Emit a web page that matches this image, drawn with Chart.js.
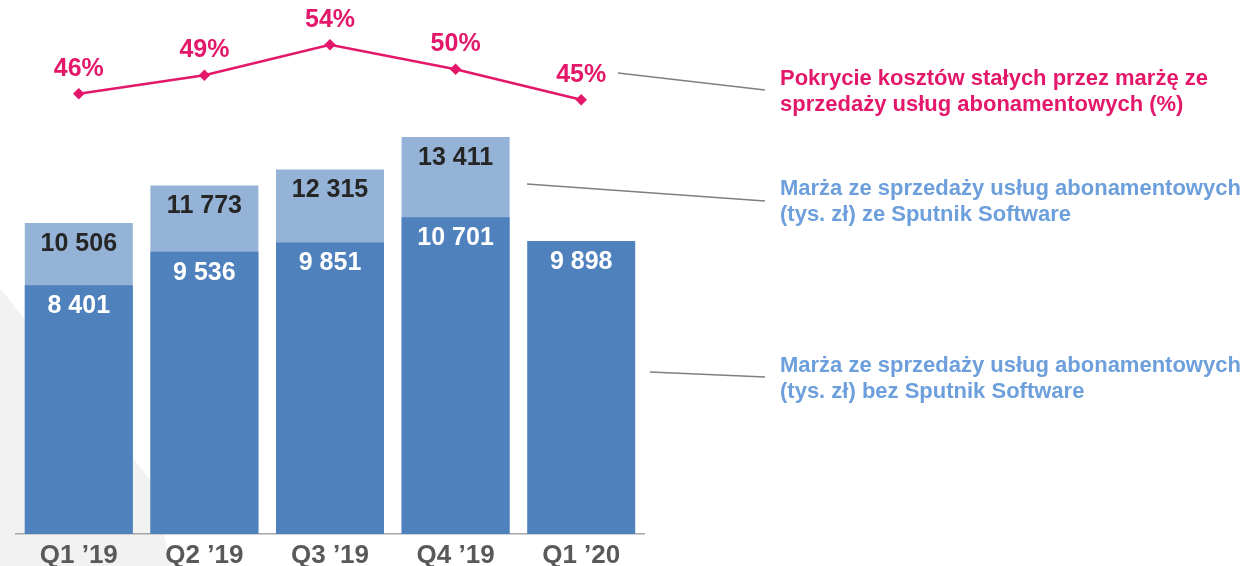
<!DOCTYPE html>
<html>
<head>
<meta charset="utf-8">
<script src="https://cdn.jsdelivr.net/npm/chart.js@4/dist/chart.umd.min.js"></script>
<style>
  html, body { margin: 0; padding: 0; background: #fff; }
  #wrap { width: 1246px; height: 566px; position: relative; }
</style>
</head>
<body>
<div id="wrap"><canvas id="chart" width="1246" height="566"></canvas></div>
<script>
const quarters = ['Q1 \u201919', 'Q2 \u201919', 'Q3 \u201919', 'Q4 \u201919', 'Q1 \u201920'];
const marginWithoutSputnik = [8401, 9536, 9851, 10701, 9898];
const marginWithSputnik = [10506, 11773, 12315, 13411, null];
const fixedCostCoverage = [46, 49, 54, 50, 45];

const legendLabels = {
    coverage: ['Pokrycie kosztów stałych przez marżę ze', 'sprzedaży usług abonamentowych (%)'],
    withSputnik: ['Marża ze sprzedaży usług abonamentowych', '(tys. zł) ze Sputnik Software'],
    withoutSputnik: ['Marża ze sprzedaży usług abonamentowych', '(tys. zł) bez Sputnik Software']
};

const colors = {
    darkBlue: '#4f81bd',
    lightBlue: '#95b3d7',
    magenta: '#e4186a',
    legendBlue: '#6c9fdb',
    darkText: '#262626',
    axisText: '#595959',
    connector: '#7f7f7f'
};

const fontFamily = '"Liberation Sans", Arial, sans-serif';

function fmt(v) {
    return String(v).replace(/\B(?=(\d{3})+(?!\d))/g, ' ');
}

// faint grey decoration on the left
const backgroundShape = {
    id: 'backgroundShape',
    beforeDraw(chart) {
        const ctx = chart.ctx;
        ctx.save();
        ctx.fillStyle = '#f2f2f2';
        ctx.beginPath();
        ctx.moveTo(0, 288);
        ctx.lineTo(150, 480);
        ctx.lineTo(172, 566);
        ctx.lineTo(0, 566);
        ctx.closePath();
        ctx.fill();
        ctx.restore();
    }
};

const valueLabels = {
    id: 'valueLabels',
    afterDatasetsDraw(chart) {
        const ctx = chart.ctx;
        ctx.save();
        ctx.textAlign = 'center';
        ctx.textBaseline = 'middle';
        ctx.font = 'bold 25px ' + fontFamily;
        chart.data.datasets.forEach((ds, i) => {
            const meta = chart.getDatasetMeta(i);
            meta.data.forEach((el, j) => {
                const v = ds.data[j];
                if (v === null || v === undefined) return;
                if (ds.type === 'line') {
                    ctx.fillStyle = colors.magenta;
                    ctx.fillText(v + '%', el.x, el.y - 25);
                } else {
                    ctx.fillStyle = ds.labelColor;
                    ctx.fillText(fmt(v), el.x, el.y + 21);
                }
            });
        });
        ctx.restore();
    }
};

const sideLegend = {
    id: 'sideLegend',
    afterDraw(chart) {
        const ctx = chart.ctx;
        ctx.save();
        ctx.strokeStyle = colors.connector;
        ctx.lineWidth = 1.5;
        const lines = [
            [618, 73, 765, 90],
            [527, 184, 765, 201],
            [650, 372, 765, 377]
        ];
        lines.forEach(l => {
            ctx.beginPath();
            ctx.moveTo(l[0], l[1]);
            ctx.lineTo(l[2], l[3]);
            ctx.stroke();
        });
        ctx.font = 'bold 22px ' + fontFamily;
        ctx.textAlign = 'left';
        ctx.textBaseline = 'middle';
        const blocks = [
            [legendLabels.coverage, colors.magenta, 79],
            [legendLabels.withSputnik, colors.legendBlue, 189],
            [legendLabels.withoutSputnik, colors.legendBlue, 366]
        ];
        blocks.forEach(b => {
            ctx.fillStyle = b[1];
            b[0].forEach((t, k) => ctx.fillText(t, 780, b[2] + k * 26));
        });
        ctx.restore();
    }
};

new Chart(document.getElementById('chart'), {
    data: {
        labels: quarters,
        datasets: [
            {
                type: 'line',
                label: legendLabels.coverage.join(' '),
                data: fixedCostCoverage,
                yAxisID: 'pct',
                borderColor: colors.magenta,
                backgroundColor: colors.magenta,
                borderWidth: 2.5,
                pointStyle: 'rectRot',
                pointRadius: 4,
                pointBackgroundColor: colors.magenta,
                pointBorderColor: colors.magenta,
                tension: 0,
                order: 0
            },
            {
                type: 'bar',
                label: legendLabels.withoutSputnik.join(' '),
                data: marginWithoutSputnik,
                yAxisID: 'y',
                backgroundColor: colors.darkBlue,
                labelColor: '#ffffff',
                grouped: false,
                barPercentage: 0.86,
                categoryPercentage: 1.0,
                order: 1
            },
            {
                type: 'bar',
                label: legendLabels.withSputnik.join(' '),
                data: marginWithSputnik,
                yAxisID: 'y',
                backgroundColor: colors.lightBlue,
                labelColor: colors.darkText,
                grouped: false,
                barPercentage: 0.86,
                categoryPercentage: 1.0,
                order: 2
            }
        ]
    },
    options: {
        responsive: false,
        animation: false,
        layout: {
            padding: { left: 16, right: 602, top: 2, bottom: -12 }
        },
        plugins: {
            legend: { display: false },
            tooltip: { enabled: false }
        },
        scales: {
            x: {
                grid: { display: false, drawTicks: false },
                border: { display: true, color: '#a6a6a6', width: 1.5 },
                ticks: {
                    color: colors.axisText,
                    font: { family: fontFamily, size: 26, weight: 'bold', lineHeight: 1 },
                    padding: 9,
                    maxRotation: 0,
                    autoSkip: false
                }
            },
            y: {
                display: false,
                min: 0,
                max: 17820
            },
            pct: {
                display: false,
                min: -25.87,
                max: 60.23
            }
        }
    },
    plugins: [backgroundShape, valueLabels, sideLegend]
});
</script>
</body>
</html>
